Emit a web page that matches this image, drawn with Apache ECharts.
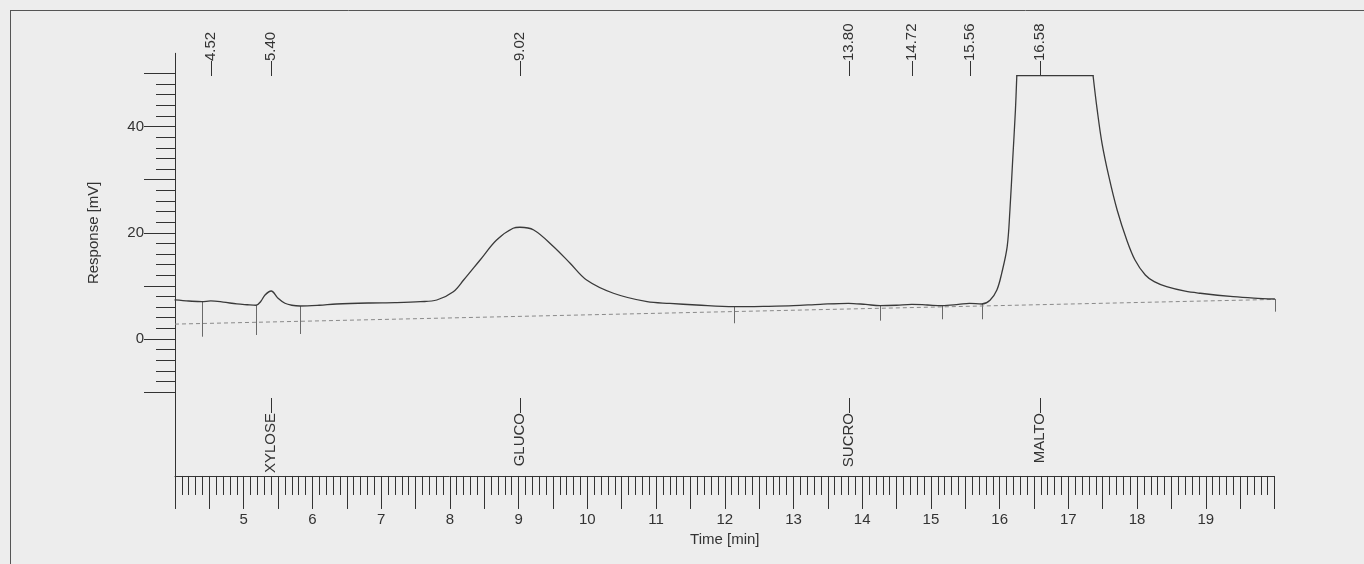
<!DOCTYPE html>
<html>
<head>
<meta charset="utf-8">
<title>Chromatogram</title>
<script src="https://cdn.jsdelivr.net/npm/echarts@6/dist/echarts.min.js"></script>
<style>
  html, body { margin: 0; padding: 0; background: #ededed; }
  #chart { width: 1364px; height: 564px; }
</style>
</head>
<body>
<div id="chart"></div>
<script>
// Detector trace: retention time [min] and response [mV]
const times = [
  4.00, 4.20, 4.39, 4.52, 4.70, 4.90, 5.05, 5.18, 5.25, 5.31, 5.40, 5.50, 5.60, 5.70, 5.82,
  6.10, 6.35, 6.84, 7.20, 7.57, 7.81, 8.05, 8.20, 8.44, 8.68, 8.92, 9.02, 9.22, 9.51, 9.75,
  9.99, 10.38, 10.87, 11.20, 11.59, 12.13, 12.60, 13.00, 13.39, 13.80, 14.05, 14.26, 14.50,
  14.72, 14.95, 15.16, 15.40, 15.56, 15.74, 15.86, 15.96, 16.03, 16.11, 16.15, 16.19, 16.23,
  16.25, 17.36, 17.42, 17.49, 17.59, 17.71, 17.85, 17.97, 18.12, 18.25, 18.43, 18.70, 18.92,
  19.40, 19.70, 20.00
];
const signal = [
  7.35, 7.15, 7.02, 7.16, 6.95, 6.60, 6.45, 6.35, 7.10, 8.29, 9.04, 7.66, 6.72, 6.35, 6.21,
  6.35, 6.59, 6.78, 6.84, 7.02, 7.34, 8.90, 11.10, 14.88, 18.64, 20.85, 21.04, 20.53, 17.38, 14.26,
  11.10, 8.61, 7.02, 6.70, 6.40, 6.08, 6.15, 6.27, 6.53, 6.72, 6.50, 6.27, 6.35,
  6.53, 6.40, 6.27, 6.50, 6.72, 6.59, 7.30, 9.23, 12.37, 17.38, 24.29, 33.71, 43.13,
  49.58, 49.58, 43.13, 36.85, 30.56, 24.29, 18.64, 14.88, 12.05, 10.79, 9.85, 9.00, 8.61,
  7.97, 7.70, 7.53
];

// Detector saturation plateau (start and end time)
const plateauTimes = [16.25, 17.36];

// Integration baseline
const baselineTimes = [4.00, 20.00];
const baselineValues = [2.80, 7.45];

// Peak start/end markers: time and lower end [mV]
const dropTimes = [4.39, 5.18, 5.82, 12.13, 14.26, 15.16, 15.74, 20.00];
const dropEnds = [0.43, 0.75, 0.94, 2.96, 3.45, 3.71, 3.71, 5.14];

// Retention time annotations
const peakTimes = [4.52, 5.40, 9.02, 13.80, 14.72, 15.56, 16.58];
const peakLabels = ['4.52', '5.40', '9.02', '13.80', '14.72', '15.56', '16.58'];

// Identified compounds
const compoundTimes = [5.40, 9.02, 13.80, 16.58];
const compoundNames = ['XYLOSE', 'GLUCO', 'SUCRO', 'MALTO'];

// Axis tick labels
const xTickLabels = ['5', '6', '7', '8', '9', '10', '11', '12', '13', '14', '15', '16', '17', '18', '19'];
const yTickLabels = ['0', '20', '40'];

// ---- layout ----
const FONT = 'Liberation Sans, Arial, sans-serif';
const INK = '#333333';
const TRACE = '#3a3a3a';
const X_MIN = 4, X_MAX = 20;
const Y_MIN = -25.8, Y_MAX = 53.8;      // full frame of the plot
const TICK_MIN = -10, TICK_MAX = 50;    // graduated part of the response axis
const PX_PER_MV = 5.31;
const PLOT_TOP = 53.3;
const LEFT = 175, RIGHT = 1364 - 1274.5;
const plotHeight = (Y_MAX - Y_MIN) * PX_PER_MV;
const scaleTop = PLOT_TOP + (Y_MAX - TICK_MAX) * PX_PER_MV;
const scaleHeight = (TICK_MAX - TICK_MIN) * PX_PER_MV;

const trace = times.map((t, i) => [t, signal[i]]);
const iStart = times.indexOf(plateauTimes[0]);
const iEnd = times.indexOf(plateauTimes[1]);
// rising part, flat saturated top, and tail are drawn as three pieces
const traceRise = trace.slice(0, iStart + 1);
const traceTop = trace.slice(iStart, iEnd + 1);
const traceTail = trace.slice(iEnd);
const baseline = baselineTimes.map((t, i) => [t, baselineValues[i]]);
const valueAt = t => signal[times.indexOf(t)];
const drops = dropTimes.map((t, i) => [t, valueAt(t), dropEnds[i]]);

function textItem(x, y, text, align) {
  return {
    type: 'text',
    x: x, y: y,
    rotation: Math.PI / 2,
    style: {
      text: text,
      fill: INK,
      font: '15px ' + FONT,
      align: align,
      verticalAlign: 'middle'
    }
  };
}

function traceSeries(data, smooth) {
  return {
    type: 'line', xAxisIndex: 0, yAxisIndex: 0,
    data: data, showSymbol: false, smooth: smooth, silent: true,
    lineStyle: { color: TRACE, width: 1.3, cap: 'round', join: 'round' }
  };
}

const chart = echarts.init(document.getElementById('chart'), null, { renderer: 'canvas' });

chart.setOption({
  backgroundColor: '#ededed',
  animation: false,
  textStyle: { fontFamily: FONT },
  grid: [
    { left: LEFT, right: RIGHT, top: PLOT_TOP, height: plotHeight },
    { left: LEFT, right: RIGHT, top: scaleTop, height: scaleHeight }
  ],
  xAxis: [
    {
      gridIndex: 0, type: 'value', min: X_MIN, max: X_MAX, interval: 0.5,
      axisLine: { show: true, onZero: false, lineStyle: { color: INK, width: 1 } },
      axisTick: { show: true, length: 33, lineStyle: { color: INK, width: 1 } },
      minorTick: { show: true, splitNumber: 5, length: 19, lineStyle: { color: INK, width: 1 } },
      axisLabel: {
        margin: 36, fontSize: 15, color: INK, fontFamily: FONT,
        formatter: v => {
          const s = String(Math.round(v * 100) / 100);
          return xTickLabels.indexOf(s) >= 0 ? s : '';
        }
      },
      splitLine: { show: false },
      name: 'Time [min]', nameLocation: 'middle', nameGap: 56,
      nameTextStyle: { fontSize: 15, color: INK, fontFamily: FONT }
    },
    {
      gridIndex: 1, type: 'value', min: X_MIN, max: X_MAX, show: false
    }
  ],
  yAxis: [
    {
      gridIndex: 0, type: 'value', min: Y_MIN, max: Y_MAX,
      axisLine: { show: true, onZero: false, lineStyle: { color: INK, width: 1 } },
      axisTick: { show: false }, axisLabel: { show: false }, splitLine: { show: false }
    },
    {
      gridIndex: 1, type: 'value', min: TICK_MIN, max: TICK_MAX, interval: 10,
      axisLine: { show: false },
      axisTick: { show: true, length: 31, lineStyle: { color: INK, width: 1 } },
      minorTick: { show: true, splitNumber: 5, length: 19, lineStyle: { color: INK, width: 1 } },
      axisLabel: {
        margin: 31, fontSize: 15, color: INK, fontFamily: FONT,
        formatter: v => (yTickLabels.indexOf(String(v)) >= 0 ? String(v) : '')
      },
      splitLine: { show: false }, minorSplitLine: { show: false },
      name: 'Response [mV]', nameLocation: 'middle', nameGap: 74,
      nameTextStyle: { fontSize: 15, color: INK, fontFamily: FONT }
    }
  ],
  graphic: [
    { type: 'line', shape: { x1: 10, y1: 10.5, x2: 1364, y2: 10.5 }, style: { stroke: '#555', lineWidth: 1 } },
    { type: 'line', shape: { x1: 10.5, y1: 10, x2: 10.5, y2: 564 }, style: { stroke: '#555', lineWidth: 1 } }
  ],
  series: [
    {
      name: 'baseline', type: 'line', xAxisIndex: 0, yAxisIndex: 0,
      data: baseline, showSymbol: false, silent: true,
      lineStyle: { color: '#8a8a8a', width: 1, type: [4, 3] }
    },
    {
      name: 'markers', type: 'custom', xAxisIndex: 0, yAxisIndex: 0,
      data: drops, silent: true, clip: false,
      renderItem: (params, api) => {
        const top = api.coord([api.value(0), api.value(1)]);
        const bottom = api.coord([api.value(0), api.value(2)]);
        const x = Math.round(top[0]) + 0.5;
        return {
          type: 'line',
          shape: { x1: x, y1: top[1], x2: x, y2: bottom[1] },
          style: { stroke: '#6a6a6a', lineWidth: 1 }
        };
      }
    },
    traceSeries(traceRise, 0.35),
    traceSeries(traceTop, false),
    traceSeries(traceTail, 0.35),
    {
      name: 'retention', type: 'custom', xAxisIndex: 0, yAxisIndex: 0,
      data: peakTimes.map(t => [t, 0]), silent: true, clip: false,
      renderItem: (params, api) => {
        const x = api.coord([api.value(0), 0])[0];
        return textItem(x, 76, '\u2014' + peakLabels[params.dataIndex], 'left');
      }
    },
    {
      name: 'compounds', type: 'custom', xAxisIndex: 0, yAxisIndex: 0,
      data: compoundTimes.map(t => [t, 0]), silent: true, clip: false,
      renderItem: (params, api) => {
        const x = api.coord([api.value(0), 0])[0];
        return textItem(x, 398, compoundNames[params.dataIndex] + '\u2014', 'right');
      }
    }
  ]
});
</script>
</body>
</html>
